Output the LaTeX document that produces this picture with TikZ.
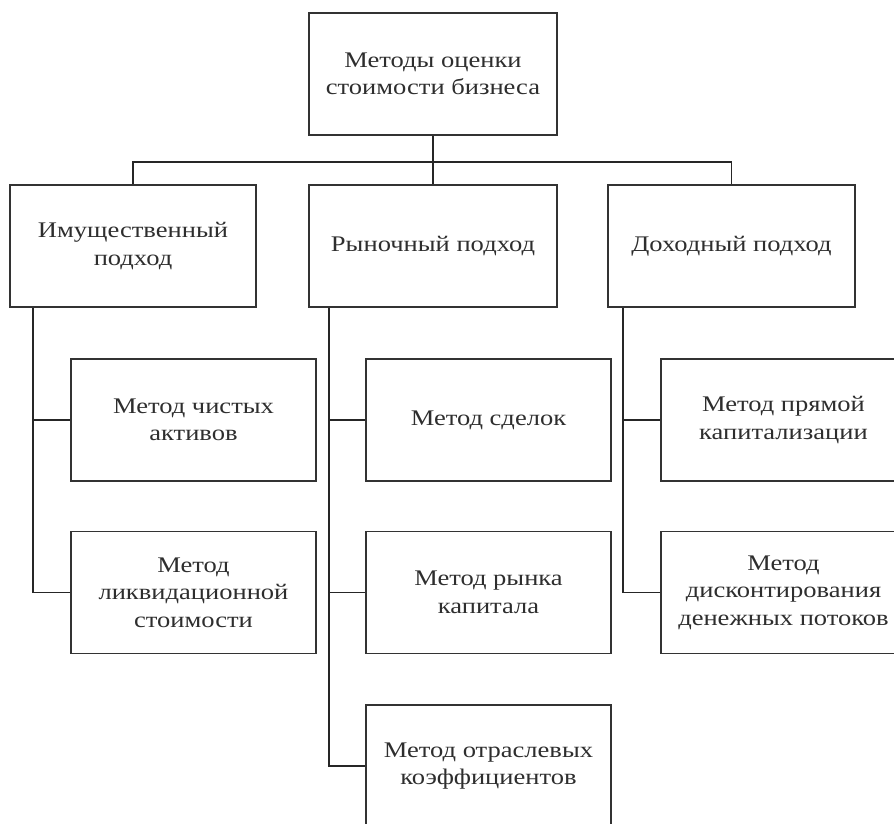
\documentclass[tikz,border=0pt]{standalone}
\usepackage{fontspec}
\setmainfont{Liberation Serif}[FakeStretch=1.19]
\usetikzlibrary{calc}
\begin{document}
\begin{tikzpicture}[x=1pt,y=-1pt,
  box/.style={draw=black!80, line width=1.7pt, rectangle, align=center, inner sep=0pt,
    minimum width=#1, minimum height=122pt,
    font=\fontsize{22.3}{27.5}\selectfont, text=black!82},
  box/.default=246pt,
  conn/.style={draw=black!85, line width=1.7pt}]
\useasboundingbox (0,0) rectangle (894,823);
\begin{scope}
\clip (0,0) rectangle (894,823);
\node[box=248pt] (top) at (433,74) {Методы оценки\\стоимости бизнеса};
\node[box=246pt] (a1) at (133,246) {Имущественный\\подход};
\node[box=248pt] (a2) at (433,246) {Рыночный подход};
\node[box=247pt] (a3) at (731.5,246) {Доходный подход};
\node[box=245pt] (b1) at (193.5,420) {Метод чистых\\активов};
\node[box=245pt] (b2) at (193.5,592.5) {Метод\\ликвидационной\\стоимости};
\node[box=245pt] (c1) at (488.5,420) {Метод сделок};
\node[box=245pt] (c2) at (488.5,592.5) {Метод рынка\\капитала};
\node[box=245pt] (c3) at (488.5,766) {Метод отраслевых\\коэффициентов};
\node[box=245pt] (d1) at (783.5,420) {Метод прямой\\капитализации};
\node[box=245pt] (d2) at (783.5,592.5) {Метод\\дисконтирования\\денежных потоков};
% top tree
\coordinate (bus) at ($(top.south)+(0,26)$);
\draw[conn] (top.south) -- (a2.north);
\draw[conn] (a1.north) |- (bus) -| (a3.north);
% left column
\coordinate (L) at ($(a1.south west)+(24,0)$);
\draw[conn] (L) |- (b2.west);
\draw[conn] (L |- b1.west) -- (b1.west);
% middle column
\coordinate (M) at ($(a2.south west)+(21,0)$);
\draw[conn] (M) |- (c3.west);
\draw[conn] (M |- c1.west) -- (c1.west);
\draw[conn] (M |- c2.west) -- (c2.west);
% right column
\coordinate (R) at ($(a3.south west)+(16,0)$);
\draw[conn] (R) |- (d2.west);
\draw[conn] (R |- d1.west) -- (d1.west);
\end{scope}
\end{tikzpicture}
\end{document}
